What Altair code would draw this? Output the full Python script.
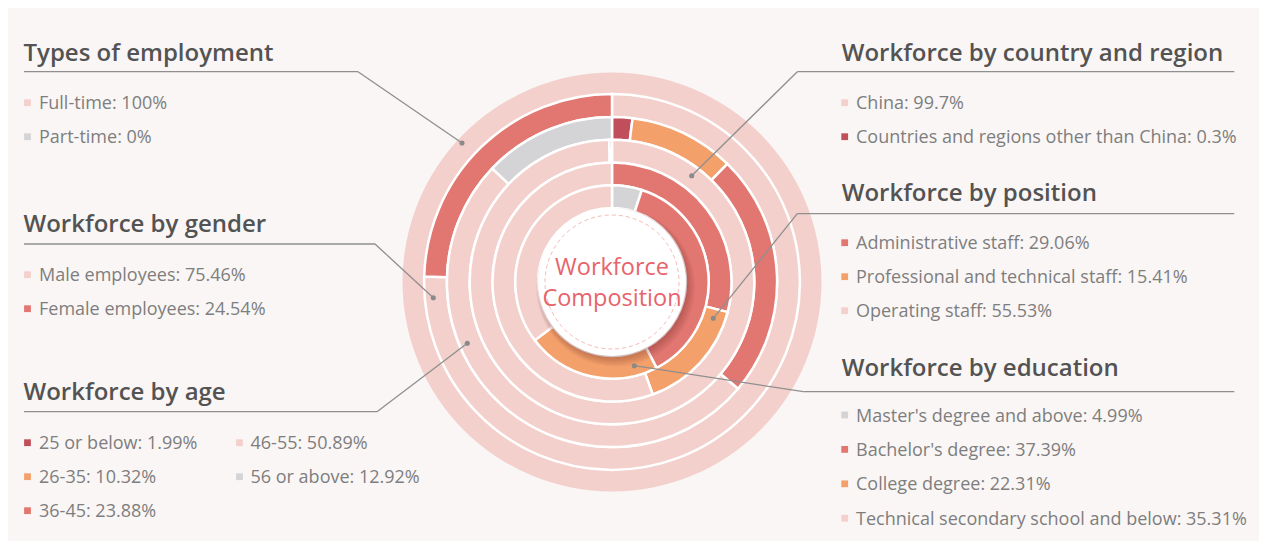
import math
import altair as alt
import pandas as pd

# ---------------- data ----------------
types_labels = ["Full-time", "Part-time"]
types_values = [100, 0]
gender_labels = ["Male employees", "Female employees"]
gender_values = [75.46, 24.54]
age_labels = ["25 or below", "26-35", "36-45", "46-55", "56 or above"]
age_values = [1.99, 10.32, 23.88, 50.89, 12.92]
country_labels = ["China", "Countries and regions other than China"]
country_values = [99.7, 0.3]
position_labels = ["Administrative staff", "Professional and technical staff", "Operating staff"]
position_values = [29.06, 15.41, 55.53]
education_labels = ["Master's degree and above", "Bachelor's degree", "College degree",
                    "Technical secondary school and below"]
education_values = [4.99, 37.39, 22.31, 35.31]

group_titles = ["Types of employment", "Workforce by gender", "Workforce by age",
                "Workforce by country and region", "Workforce by position", "Workforce by education"]
center_title = ["Workforce", "Composition"]

# ---------------- style ----------------
PALE, GRAY, CORAL, DARK, ORANGE = "#f3d0cc", "#d4d4d6", "#e27771", "#c04f5b", "#f3a06b"
types_colors = [PALE, GRAY]
gender_colors = [PALE, CORAL]
age_colors = [DARK, ORANGE, CORAL, PALE, GRAY]
country_colors = [PALE, DARK]
position_colors = [CORAL, ORANGE, PALE]
education_colors = [GRAY, CORAL, ORANGE, PALE]

FONT = "Open Sans"
BG = "#faf6f5"
OFF = 8
W, H = 1251, 533
CX, CY = 612 - OFF, 282 - OFF
RING_W = 22.8
RING_OUT = [209.5, 187.9, 165.1, 142.3, 119.5, 96.7]

rings = [
    (types_labels, types_values, types_colors),
    (gender_labels, gender_values, gender_colors),
    (age_labels, age_values, age_colors),
    (country_labels, country_values, country_colors),
    (position_labels, position_values, position_colors),
    (education_labels, education_values, education_colors),
]

layers = []
for k, (labs, vals, cols) in enumerate(rings):
    df = pd.DataFrame({"label": labs, "value": vals, "color": cols, "idx": list(range(len(labs)))})
    if k == 0:
        mk = alt.Chart(df).mark_arc(radius=RING_OUT[k], radius2=188.3, strokeWidth=0)
    else:
        mk = alt.Chart(df).mark_arc(radius=RING_OUT[k], radius2=RING_OUT[k] - RING_W,
                                    stroke="white", strokeWidth=2.5)
    layers.append(mk.encode(
        theta=alt.Theta("value:Q", stack=True),
        color=alt.Color("color:N", scale=None),
        order=alt.Order("idx:Q", sort="ascending"),
        x=alt.value(CX), y=alt.value(CY),
    ))

# center shadow + white disc + dashed circle
shadow = pd.DataFrame({"k": list(range(7))})
shadow["x"] = CX + 1.5 + shadow["k"] * 0.35
shadow["y"] = CY + 2.5 + shadow["k"] * 0.45
shadow["r"] = 74 + shadow["k"] * 0.9
for _, row in shadow.iterrows():
    layers.append(alt.Chart(pd.DataFrame({"a": [0]})).mark_arc(
        theta=0, theta2=2 * math.pi, radius=float(row["r"]), color="#5a2020", opacity=0.045
    ).encode(x=alt.value(float(row["x"])), y=alt.value(float(row["y"]))))

layers.append(alt.Chart(pd.DataFrame({"a": [0]})).mark_arc(
    theta=0, theta2=2 * math.pi, radius=74, color="white"
).encode(x=alt.value(CX), y=alt.value(CY)))
layers.append(alt.Chart(pd.DataFrame({"a": [0]})).mark_arc(
    theta=0, theta2=2 * math.pi, radius=67, fillOpacity=0, stroke="#f6b9b8",
    strokeWidth=1, strokeDash=[4, 3]
).encode(x=alt.value(CX), y=alt.value(CY)))

center_df = pd.DataFrame({"text": center_title, "x": [CX, CX], "y": [267.5 - OFF, 298.5 - OFF]})
layers.append(alt.Chart(center_df).mark_text(
    font=FONT, fontSize=23.5, color="#e8646b", baseline="middle", align="center"
).encode(x=alt.X("x:Q", scale=None, axis=None), y=alt.Y("y:Q", scale=None, axis=None), text="text:N"))

# ---------------- annotation layout ----------------
# side, title baseline, underline y, underline x-range, pointer dot, first item baseline, item step
groups = [
    dict(side="L", tb=61, ly=71.7, lx=(24, 358), dot=(462, 143), ib=109.3, step=34),
    dict(side="L", tb=232.3, ly=244, lx=(24, 375), dot=(433.3, 297.7), ib=281.3, step=34),
    dict(side="L", tb=400, ly=411.7, lx=(24, 377), dot=(467.3, 343.3), ib=449.3, step=34),
    dict(side="R", tb=60.7, ly=71.7, lx=(797.3, 1234.3), dot=(691.7, 175.7), ib=109.3, step=34),
    dict(side="R", tb=201, ly=213.7, lx=(797.3, 1234.3), dot=(713.3, 318.3), ib=249.3, step=34),
    dict(side="R", tb=376, ly=391.7, lx=(803.3, 1234.3), dot=(634.3, 365.7), ib=421.6, step=34.4),
]

title_rows, seg_rows, dot_rows, item_rows = [], [], [], []
for gi, (g, (labs, vals, cols)) in enumerate(zip(groups, rings)):
    tx = 23.5 if g["side"] == "L" else 841.7
    title_rows.append({"text": group_titles[gi], "x": tx - OFF, "y": g["tb"] - OFF})
    x0, x1 = g["lx"]
    seg_rows.append({"x": x0 - OFF, "y": g["ly"] - OFF, "x2": x1 - OFF, "y2": g["ly"] - OFF})
    elbow = x1 if g["side"] == "L" else x0
    seg_rows.append({"x": elbow - OFF, "y": g["ly"] - OFF, "x2": g["dot"][0] - OFF, "y2": g["dot"][1] - OFF})
    dot_rows.append({"x": g["dot"][0] - OFF, "y": g["dot"][1] - OFF})
    for i, (lab, v, c) in enumerate(zip(labs, vals, cols)):
        if g["side"] == "L":
            if gi == 2 and i >= 3:
                sx, txx, row = 239.5, 250.5, i - 3
            else:
                sx, txx, row = 27.5, 39, i
        else:
            sx, txx, row = 844.7, 856, i
        base = g["ib"] + row * g["step"]
        item_rows.append({"text": f"{lab}: {v:g}%", "x": txx - OFF, "y": base - OFF,
                          "sx": sx - OFF, "sy": base - 6.6 - OFF, "color": c})

seg_df = pd.DataFrame(seg_rows)
layers.append(alt.Chart(seg_df).mark_rule(color="#8f8f8f", strokeWidth=1.3).encode(
    x=alt.X("x:Q", scale=None, axis=None), y=alt.Y("y:Q", scale=None, axis=None),
    x2="x2:Q", y2="y2:Q"))
layers.append(alt.Chart(pd.DataFrame(dot_rows)).mark_point(
    shape="circle", filled=True, size=26, color="#8a8a8a", opacity=1
).encode(x=alt.X("x:Q", scale=None, axis=None), y=alt.Y("y:Q", scale=None, axis=None)))

layers.append(alt.Chart(pd.DataFrame(title_rows)).mark_text(
    font=FONT, fontSize=24, fontWeight=600, color="#535353", align="left", baseline="alphabetic"
).encode(x=alt.X("x:Q", scale=None, axis=None), y=alt.Y("y:Q", scale=None, axis=None), text="text:N"))

item_df = pd.DataFrame(item_rows)
layers.append(alt.Chart(item_df).mark_square(size=46, opacity=1).encode(
    x=alt.X("sx:Q", scale=None, axis=None), y=alt.Y("sy:Q", scale=None, axis=None),
    color=alt.Color("color:N", scale=None)))
layers.append(alt.Chart(item_df).mark_text(
    font=FONT, fontSize=18, fontWeight=400, color="#7e7e7e", align="left", baseline="alphabetic"
).encode(x=alt.X("x:Q", scale=None, axis=None), y=alt.Y("y:Q", scale=None, axis=None), text="text:N"))

chart = alt.layer(*layers).resolve_scale(theta="independent").properties(
    width=W, height=H, padding=0, autosize=alt.AutoSizeParams(type="none"), background=BG
).configure_view(strokeWidth=0)

chart.save("out.html", embed_options={"renderer": "svg", "actions": False})
